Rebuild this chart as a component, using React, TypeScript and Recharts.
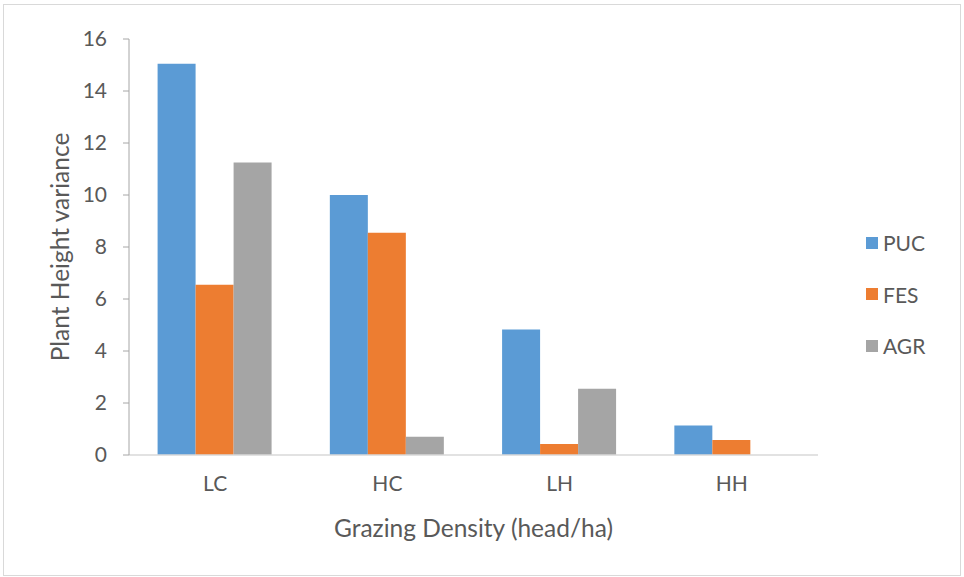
import React from "react";
import { Bar, BarChart, Legend, XAxis, YAxis } from "recharts";

const categories = ["LC", "HC", "LH", "HH"];
const puc = [15.05, 10.0, 4.83, 1.13];
const fes = [6.55, 8.55, 0.42, 0.58];
const agr = [11.25, 0.7, 2.55, 0];
const yTicks = [0, 2, 4, 6, 8, 10, 12, 14, 16];

const series = [
  { key: "PUC", color: "#5b9bd5" },
  { key: "FES", color: "#ed7d31" },
  { key: "AGR", color: "#a5a5a5" },
];

const data = categories.map((name, i) => ({ name, PUC: puc[i], FES: fes[i], AGR: agr[i] }));

const font = "Lato, 'Open Sans', sans-serif";
const textColor = "#595959";

function LegendBox() {
  return (
    <div style={{ paddingTop: 11, paddingLeft: 48, fontFamily: font, whiteSpace: "nowrap" }}>
      {series.map((s) => (
        <div key={s.key} style={{ height: 51.5, display: "flex", alignItems: "center" }}>
          <span
            style={{
              width: 12,
              height: 12,
              flexShrink: 0,
              background: s.color,
              display: "inline-block",
              marginRight: 5,
            }}
          />
          <span style={{ fontSize: 21, color: textColor, flexShrink: 0 }}>{s.key}</span>
        </div>
      ))}
    </div>
  );
}

export default function App() {
  return (
    <div style={{ position: "absolute", left: 0, top: 0, width: 964, height: 577, background: "#fff" }}>
      <div
        style={{
          position: "absolute",
          left: 3,
          top: 4,
          width: 956,
          height: 570,
          border: "1px solid #d9d9d9",
        }}
      />
      <div style={{ position: "absolute", left: 0, top: 0 }}>
        <BarChart
          width={964}
          height={577}
          data={data}
          margin={{ top: 39, right: 46, left: 39, bottom: 32 }}
          barCategoryGap="16.6%"
          barGap={0}
        >
          <XAxis
            dataKey="name"
            height={90}
            tickLine={false}
            tickMargin={15}
            axisLine={{ stroke: "#d9d9d9", strokeWidth: 1.5 }}
            tick={{ fill: textColor, fontSize: 21, fontFamily: font }}
            label={{
              value: "Grazing Density (head/ha)",
              position: "insideBottom",
              offset: 8,
              fill: textColor,
              fontSize: 24.5,
              fontFamily: font,
            }}
          />
          <YAxis
            width={90}
            domain={[0, 16]}
            ticks={yTicks}
            interval={0}
            tickMargin={16}
            axisLine={{ stroke: "#a6a6a6" }}
            tickLine={{ stroke: "#a6a6a6" }}
            tick={{ fill: textColor, fontSize: 21, fontFamily: font }}
            label={{
              value: "Plant Height variance",
              angle: -90,
              position: "center",
              dx: -24,
              fill: textColor,
              fontSize: 24.5,
              fontFamily: font,
            }}
          />
          <Legend
            layout="vertical"
            align="right"
            verticalAlign="middle"
            width={100}
            content={() => <LegendBox />}
          />
          {series.map((s) => (
            <Bar key={s.key} dataKey={s.key} fill={s.color} isAnimationActive={false} />
          ))}
        </BarChart>
      </div>
    </div>
  );
}
